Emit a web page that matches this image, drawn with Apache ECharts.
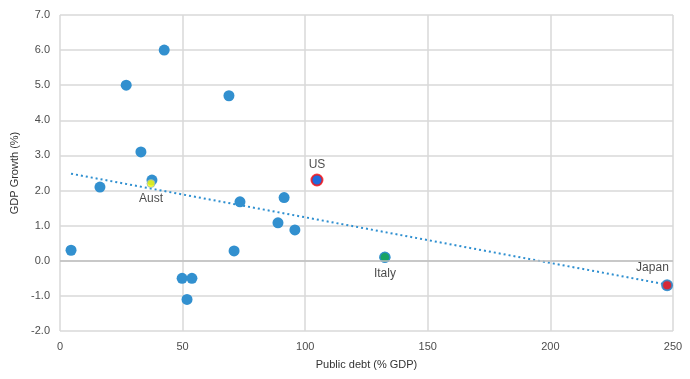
<!DOCTYPE html>
<html><head><meta charset="utf-8">
<script src="https://cdn.jsdelivr.net/npm/echarts@6/dist/echarts.min.js"></script>
<style>html,body{margin:0;padding:0;background:#fff}#c{width:690px;height:379px}</style>
</head><body><div id="c"></div>
<script>
// Public debt (% GDP), GDP growth (%)
const debt   = [4.5, 16.3, 27.0, 42.5, 33.0, 37.5, 68.9, 49.8, 53.8, 51.8, 71.0, 73.4, 88.9, 91.4, 95.8, 104.8, 132.5, 247.6];
const growth = [0.3, 2.1, 5.0, 6.0, 3.1, 2.3, 4.7, -0.5, -0.5, -1.1, 0.28, 1.68, 1.08, 1.8, 0.88, 2.3, 0.1, -0.7];
const austPt  = [37.1, 2.2];
const usPt    = [104.8, 2.3];
const italyPt = [132.5, 0.1];
const japanPt = [247.6, -0.7];
const trendX = [4.5, 247.6];
const trendY = [2.48, -0.68];
const xTicks = [0, 50, 100, 150, 200, 250];
const yTicks = [-2, -1, 0, 1, 2, 3, 4, 5, 6, 7];

const font = 'Liberation Sans, Arial, sans-serif';
const chart = echarts.init(document.getElementById('c'));
const lbl = (pos, txt, d) => ({show: true, position: pos, formatter: txt, color: '#1a1a1a', fontSize: 12, fontFamily: font, distance: d});
chart.setOption({
  animation: false,
  grid: {left: 60, right: 17, top: 15, bottom: 48},
  xAxis: {
    type: 'value', min: xTicks[0], max: xTicks[xTicks.length-1], interval: 50,
    axisLine: {show: false, onZero: false}, axisTick: {show: false},
    axisLabel: {color: '#4d4d4d', fontSize: 11, fontFamily: font, margin: 10},
    splitLine: {show: true, lineStyle: {color: '#d9d9d9', width: 1.5}},
    name: 'Public debt (% GDP)', nameLocation: 'middle', nameGap: 28,
    nameTextStyle: {color: '#333333', fontSize: 11, fontFamily: font}
  },
  yAxis: {
    type: 'value', min: yTicks[0], max: yTicks[yTicks.length-1], interval: 1,
    axisLine: {show: false, onZero: false}, axisTick: {show: false},
    axisLabel: {color: '#4d4d4d', fontSize: 11, fontFamily: font, margin: 10, formatter: v => v.toFixed(1)},
    splitLine: {show: true, lineStyle: {color: '#d9d9d9', width: 1.5}},
    name: 'GDP Growth (%)', nameLocation: 'middle', nameGap: 40,
    nameTextStyle: {color: '#333333', fontSize: 11, fontFamily: font}
  },
  series: [
    {type: 'line', data: trendX.map((x, i) => [x, trendY[i]]), symbol: 'none',
     lineStyle: {color: '#2e8fd0', width: 2, type: [2, 3]}, z: 1,
     markLine: {silent: true, symbol: 'none', label: {show: false},
       lineStyle: {color: '#bfbfbf', type: 'solid', width: 1.5}, data: [{yAxis: 0}]}},
    {type: 'scatter', data: debt.map((x, i) => [x, growth[i]]), symbolSize: 11,
     itemStyle: {color: '#3290cf', opacity: 1}, z: 3},
    {type: 'scatter', data: [austPt], symbolSize: 8, z: 4,
     itemStyle: {color: '#ffff00', borderColor: '#8fb4d0', borderWidth: 1},
     label: lbl('bottom', 'Aust', 5)},
    {type: 'scatter', data: [usPt], symbolSize: 11, z: 4,
     itemStyle: {color: '#1a62e0', borderColor: '#ff1010', borderWidth: 2},
     label: lbl('top', 'US', 3)},
    {type: 'scatter', data: [italyPt], symbolSize: 10, z: 4,
     itemStyle: {color: '#13a84a', borderColor: '#3290cf', borderWidth: 1.5},
     label: lbl('bottom', 'Italy', 5)},
    {type: 'scatter', data: [japanPt], symbolSize: 10, z: 4,
     itemStyle: {color: '#ff1010', borderColor: '#3290cf', borderWidth: 2},
     label: {show: true, position: [-25, -18], formatter: 'Japan', color: '#1a1a1a', fontSize: 12, fontFamily: font}}
  ]
});
</script></body></html>
